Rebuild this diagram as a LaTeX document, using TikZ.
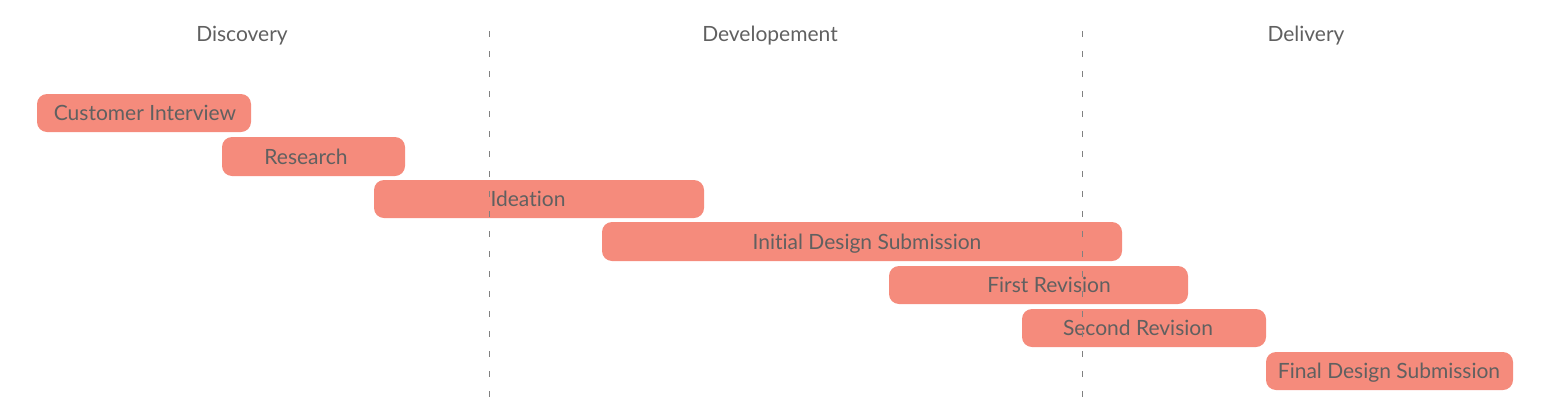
\documentclass[tikz,border=0pt]{standalone}
\usepackage{fontspec}
\setmainfont{Lato}[Ligatures={NoCommon}]
\definecolor{barfill}{HTML}{F58B7C}
\definecolor{txt}{HTML}{606060}
\definecolor{dashc}{HTML}{808080}
\begin{document}
\begin{tikzpicture}[x=1pt,y=-1pt,
  bar/.style={fill=barfill,draw=none,rounded corners=10pt,inner sep=0pt},
  bartext/.style={text=txt,font=\fontsize{21}{24}\selectfont,inner sep=0pt,anchor=base},
  phase/.style={text=txt,font=\fontsize{21}{24}\selectfont,inner sep=0pt,anchor=base},
  divider/.style={draw=dashc,line width=0.8pt,dash pattern=on 6pt off 14pt}]
\useasboundingbox (0,0) rectangle (1550,413);
% phase headers
\node[phase] (ph1) at (242,41) {Discovery};
\node[phase] (ph2) at (770,41) {Developement};
\node[phase] (ph3) at (1306,41) {Delivery};
% bars: name, x1, x2, y1, y2
\newcommand{\mybar}[5]{%
  \node[bar,minimum width={#3-#2},minimum height={#5-#4}] (#1) at ({(#2+#3)/2},{(#4+#5)/2}) {};}
\mybar{b1}{37}{251}{94}{132}
\mybar{b2}{222}{405}{137}{176}
\mybar{b3}{374}{704}{180}{218}
\mybar{b4}{602}{1122}{222}{261}
\mybar{b5}{889}{1188}{266}{304}
\mybar{b6}{1022}{1266}{309}{347}
\mybar{b7}{1266}{1513}{352}{390}
\node[bartext] (t1) at (145,120.5) {Customer Interview};
\node[bartext] (t2) at (306,164) {Research};
\node[bartext] (t3) at (528,206.5) {Ideation};
\node[bartext] (t4) at (867,249) {Initial Design Submission};
\node[bartext] (t5) at (1049,292.5) {First Revision};
\node[bartext] (t6) at (1138,335.5) {Second Revision};
\node[bartext] (t7) at (1389,378.5) {Final Design Submission};
% dividers
\coordinate (d1a) at (489,31);
\coordinate (d1b) at (489,400);
\coordinate (d2a) at (1082,31);
\coordinate (d2b) at (1082,400);
\draw[divider] (d1a) -- (d1b);
\draw[divider] (d2a) -- (d2b);
\end{tikzpicture}
\end{document}
